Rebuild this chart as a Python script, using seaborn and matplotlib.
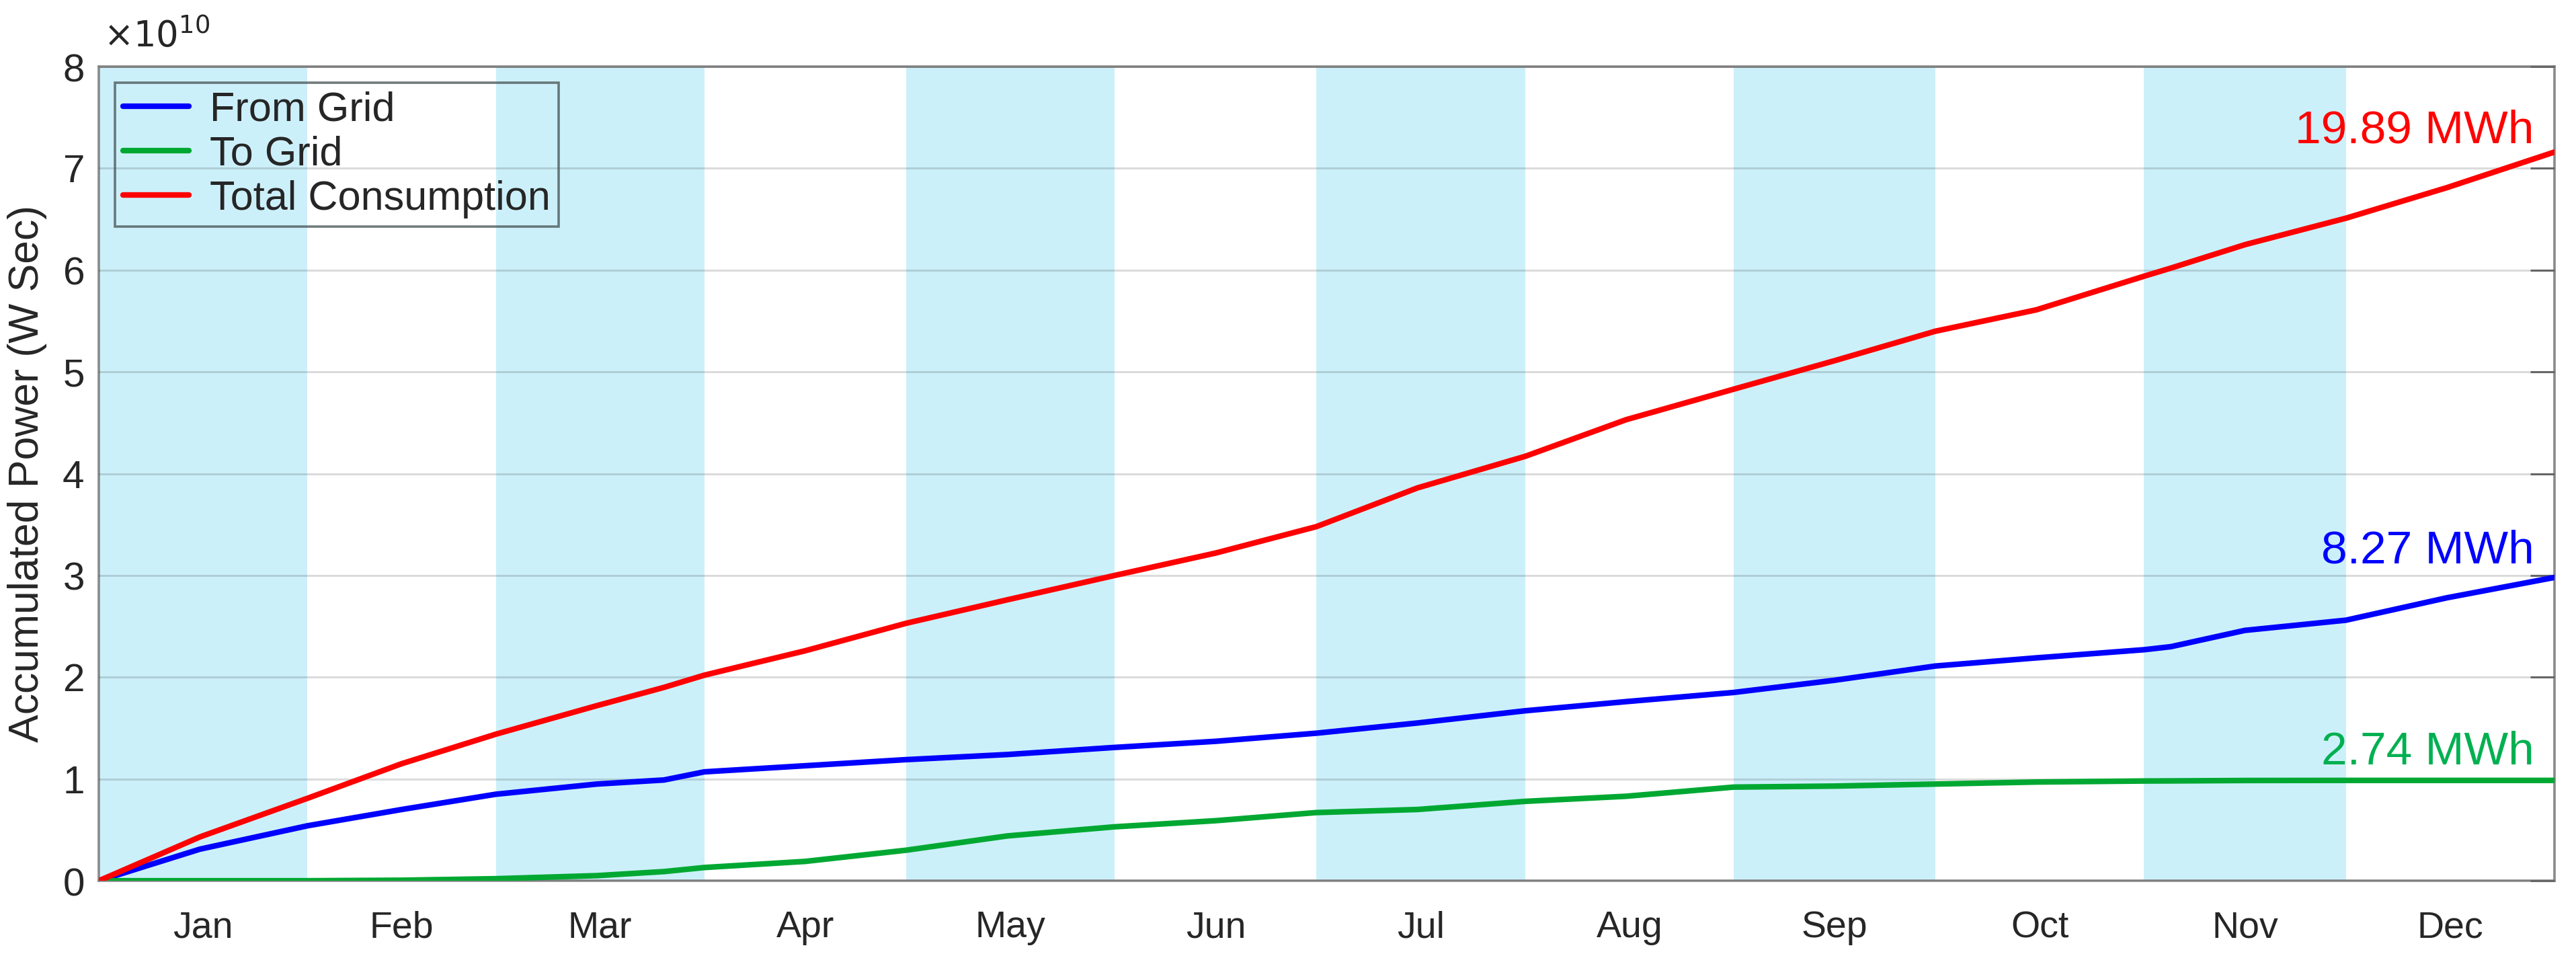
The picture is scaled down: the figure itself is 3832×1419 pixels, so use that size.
"""
Energia acumulada ao longo do ano: rede -> casa, casa -> rede e consumo total.
"""
import numpy as np
import pandas as pd
import matplotlib
matplotlib.use('Agg')
import matplotlib.pyplot as plt
from matplotlib.ticker import ScalarFormatter
import seaborn as sns

# dias do ano (pontos lidos a cada ~meio mes)
dias = [0, 15, 31, 45, 59, 74, 84, 90, 105, 120, 135, 151, 166, 181, 196, 212,
        227, 243, 258, 273, 288, 304, 308, 319, 334, 349, 365]
# valores em unidades de 1e10 W.s
from_grid = [0, 0.31, 0.54, 0.70, 0.85, 0.95, 0.99, 1.07, 1.13, 1.19, 1.24, 1.31, 1.37, 1.45, 1.55, 1.67,
             1.76, 1.85, 1.97, 2.11, 2.19, 2.27, 2.30, 2.46, 2.56, 2.78, 2.98]
to_grid = [0, 0.0, 0.0, 0.005, 0.02, 0.05, 0.09, 0.13, 0.19, 0.30, 0.44, 0.53, 0.59, 0.67, 0.70, 0.78,
           0.83, 0.92, 0.93, 0.95, 0.97, 0.98, 0.981, 0.985, 0.986, 0.986, 0.986]
total = [0, 0.43, 0.81, 1.15, 1.44, 1.72, 1.90, 2.02, 2.26, 2.53, 2.76, 3.00, 3.22, 3.48, 3.86, 4.17,
         4.53, 4.83, 5.11, 5.40, 5.61, 5.94, 6.02, 6.25, 6.51, 6.81, 7.16]

meses = ['Jan', 'Feb', 'Mar', 'Apr', 'May', 'Jun', 'Jul', 'Aug', 'Sep', 'Oct', 'Nov', 'Dec']
dias_mes = [31, 28, 31, 30, 31, 30, 31, 31, 30, 31, 30, 31]

series = ['From Grid', 'To Grid', 'Total Consumption']
cores = ['#0000FF', '#00A832', '#FF0000']
rotulos_fim = ['8.27 MWh', '2.74 MWh', '19.89 MWh']
cores_rotulo = ['#0000FF', '#00B050', '#FF0000']
y_rotulo = [3.12, 1.145, 7.25]

sns.set_theme(style='white')
plt.rcParams['font.family'] = ['Liberation Sans', 'DejaVu Sans']

df = pd.DataFrame({
    'Dia': dias * 3,
    'Energia': np.array(from_grid + to_grid + total) * 1e10,
    'Serie': [s for s in series for _ in dias],
})

fig, ax = plt.subplots(figsize=(19.16, 7.095), dpi=200)
fig.subplots_adjust(left=0.0384, right=0.9916, top=0.9302, bottom=0.0768)

# faixas azuis em meses alternados
inicio = np.concatenate([[0], np.cumsum(dias_mes)[:-1]])
for i in range(0, 12, 2):
    ax.axvspan(inicio[i], inicio[i] + dias_mes[i], color='#CCF0FA', lw=0, zorder=0)

sns.lineplot(data=df, x='Dia', y='Energia', hue='Serie', hue_order=series,
             palette=cores, linewidth=3.0, ax=ax, zorder=3)

ax.set_xlim(0, 365)
ax.set_ylim(0, 8e10)
ax.set_yticks(np.arange(0, 9) * 1e10)
fmt = ScalarFormatter(useMathText=True)
fmt.set_powerlimits((0, 0))
ax.yaxis.set_major_formatter(fmt)
ax.yaxis.get_offset_text().set_visible(False)
ax.text(0.002, 1.024, r'$\times10^{10}$', transform=ax.transAxes, fontsize=19,
        ha='left', va='baseline', color='#262626')

ax.set_xticks(inicio + np.array(dias_mes) / 2)
ax.set_xticklabels(meses)
ax.tick_params(axis='x', length=0, pad=16, labelsize=20)
ax.tick_params(axis='y', direction='in', length=13, width=1.1, color='#666666',
               labelsize=21, pad=8, right=True)
ax.yaxis.grid(True, color='black', alpha=0.14, linewidth=1.1, zorder=1)
ax.set_axisbelow(False)
for sp in ax.spines.values():
    sp.set_color('#8a8a8a')
    sp.set_linewidth(1.3)

ax.set_xlabel('')
ax.set_ylabel('Accumulated Power (W Sec)', fontsize=22.5, labelpad=8)

for rot, cor, yy in zip(rotulos_fim, cores_rotulo, y_rotulo):
    ax.text(362, yy * 1e10, rot, color=cor, fontsize=25, ha='right', va='baseline')

leg = ax.legend(loc='upper left', bbox_to_anchor=(0.0066, 0.98), borderaxespad=0,
                fontsize=22, handlelength=1.6, handletextpad=0.5, labelspacing=0.15,
                borderpad=0.2, frameon=True, fancybox=False)
leg.get_frame().set_facecolor('none')
leg.get_frame().set_edgecolor('#4d5a5c')
leg.get_frame().set_linewidth(1.3)
for h in leg.get_lines():
    h.set_linewidth(3.0)

plt.savefig('out.png', dpi=200)
plt.close()
